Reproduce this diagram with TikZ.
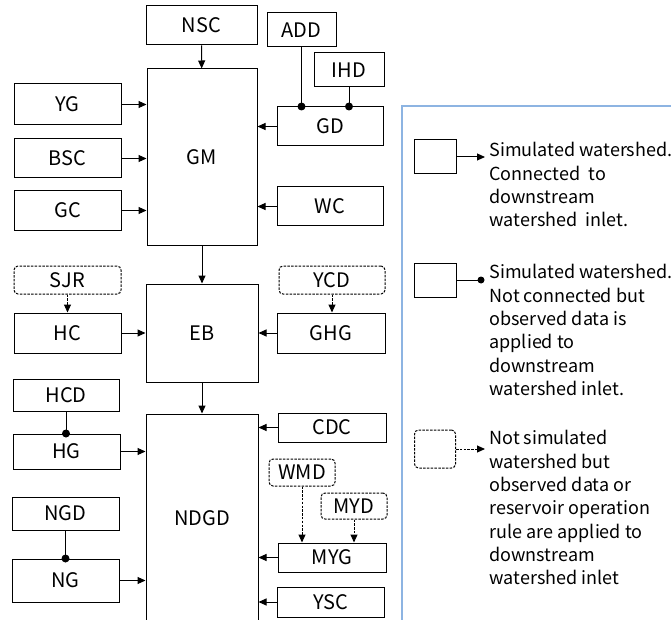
\documentclass[tikz,border=0pt]{standalone}
\usepackage{fontspec}
\setmainfont{Noto Sans CJK KR}
\usepackage{tikz}
\usetikzlibrary{arrows.meta}
\usepackage{xcolor}
\definecolor{framecol}{RGB}{141,180,226}

\begin{document}
\begin{tikzpicture}[x=1pt,y=-1pt,
  box/.style={draw, rectangle, inner sep=0pt, font=\fontsize{20}{22}\selectfont},
  obsbox/.style={box, dash pattern=on 2.5pt off 1.3pt, rounded corners=4pt},
  flow/.style={line width=1pt, -{Triangle[length=8pt,width=7pt]}},
  obsflow/.style={flow, dash pattern=on 2.5pt off 1.3pt},
  tie/.style={line width=1pt},
  knot/.style={circle, fill, inner sep=0pt, minimum size=8pt},
  legtext/.style={anchor=north west, inner sep=0pt, align=left, font=\fontsize{18}{23.3}\selectfont}]
\useasboundingbox (0,0) rectangle (671,620);
\clip (0,0) rectangle (671,620);
\tikzset{every path/.append style={line width=1pt}}
% upper part
\node[box, minimum width=111pt, minimum height=39pt] (NSC) at (201.5,25.5) {NSC};
\node[box, minimum width=69pt, minimum height=34pt] (ADD) at (301.5,30) {ADD};
\node[box, minimum width=70pt, minimum height=34pt] (IHD) at (349,70) {IHD};
\node[box, minimum width=110pt, minimum height=176pt] (GM) at (202,157) {GM};
\node[box, minimum width=107pt, minimum height=41pt] (YG) at (67.5,104.5) {YG};
\node[box, minimum width=107pt, minimum height=39pt] (BSC) at (67.5,158.5) {BSC};
\node[box, minimum width=107pt, minimum height=39pt] (GC) at (67.5,210.5) {GC};
\node[box, minimum width=106pt, minimum height=39pt] (GD) at (330,126.5) {GD};
\node[box, minimum width=106pt, minimum height=39pt] (WC) at (330,206.5) {WC};
% middle part
\node[obsbox, minimum width=107pt, minimum height=28pt] (SJR) at (67.5,280) {SJR};
\node[box, minimum width=107pt, minimum height=40pt] (HC) at (67.5,333) {HC};
\node[box, minimum width=112pt, minimum height=98pt] (EB) at (202,333) {EB};
\node[obsbox, minimum width=106pt, minimum height=28pt] (YCD) at (332,280) {YCD};
\node[box, minimum width=108pt, minimum height=40pt] (GHG) at (331,333) {GHG};
% lower part
\node[box, minimum width=106pt, minimum height=32pt] (HCD) at (66,395) {HCD};
\node[box, minimum width=107pt, minimum height=35pt] (HG) at (66.5,451.5) {HG};
\node[box, minimum width=107pt, minimum height=33pt] (NGD) at (65.5,513.5) {NGD};
\node[box, minimum width=107pt, minimum height=43pt] (NG) at (65.5,580.5) {NG};
\node[box, minimum width=112pt, minimum height=208pt] (NDGD) at (202,518) {NDGD};
\node[box, minimum width=108pt, minimum height=29pt] (CDC) at (332,427.5) {CDC};
\node[obsbox, minimum width=66pt, minimum height=27pt] (WMD) at (302,472.5) {WMD};
\node[obsbox, minimum width=66pt, minimum height=26pt] (MYD) at (354,506) {MYD};
\node[box, minimum width=108pt, minimum height=29pt] (MYG) at (332,557.5) {MYG};
\node[box, minimum width=107pt, minimum height=30pt] (YSC) at (330.5,602) {YSC};

\draw[flow] (NSC) -- (GM);
\draw[flow] (YG.east) -- (YG.east -| GM.west);
\draw[flow] (BSC.east) -- (BSC.east -| GM.west);
\draw[flow] (GC.east) -- (GC.east -| GM.west);
\draw[flow] (GD.west) -- (GD.west -| GM.east);
\draw[flow] (WC.west) -- (WC.west -| GM.east);
\draw[tie] (ADD.south) -- (ADD.south |- GD.north) node[knot] {};
\draw[tie] (IHD.south) -- (IHD.south |- GD.north) node[knot] {};
\draw[flow] (GM) -- (EB);
\draw[obsflow] (SJR) -- (HC);
\draw[obsflow] (YCD.south) -- (YCD.south |- GHG.north);
\draw[flow] (HC) -- (EB);
\draw[flow] (GHG) -- (EB);
\draw[flow] (EB) -- (NDGD);
\draw[tie] (HCD) -- (HCD.south |- HG.north) node[knot] {};
\draw[tie] (NGD) -- (NGD.south |- NG.north) node[knot] {};
\draw[flow] (HG.east) -- (HG.east -| NDGD.west);
\draw[flow] (NG.east) -- (NG.east -| NDGD.west);
\draw[flow] (CDC.west) -- (CDC.west -| NDGD.east);
\draw[flow] (MYG.west) -- (MYG.west -| NDGD.east);
\draw[flow] (YSC.west) -- (YSC.west -| NDGD.east);
\draw[obsflow] (WMD.south) -- (WMD.south |- MYG.north);
\draw[obsflow] (MYD.south) -- (MYD.south |- MYG.north);

% legend
\draw[framecol, line width=1.5pt] (402,106) rectangle (690,640);
\node[box, minimum width=42pt, minimum height=34pt] (L1) at (435,157) {};
\node[box, minimum width=42pt, minimum height=34pt] (L2) at (435,280) {};
\node[obsbox, minimum width=41pt, minimum height=38pt] (L3) at (435,449) {};
\coordinate (L1end) at (485,157);
\coordinate (L2end) at (481,280);
\coordinate (L3end) at (485,449);
\draw[flow] (L1) -- (L1end);
\draw[tie] (L2) -- (L2end) node[knot, minimum size=7pt] {};
\draw[obsflow] (L3) -- (L3end);
\node[legtext] (T1) at (489,142) {Simulated watershed.\\Connected\ \ to\\downstream\\watershed\ \ inlet.};
\node[legtext] (T2) at (489,264) {Simulated watershed.\\Not connected but\\observed data is\\applied to\\downstream\\watershed inlet.};
\node[legtext] (T3) at (489,430) {Not simulated\\watershed but\\observed data or\\reservoir operation\\rule are applied to\\downstream\\watershed inlet};
\end{tikzpicture}
\end{document}
